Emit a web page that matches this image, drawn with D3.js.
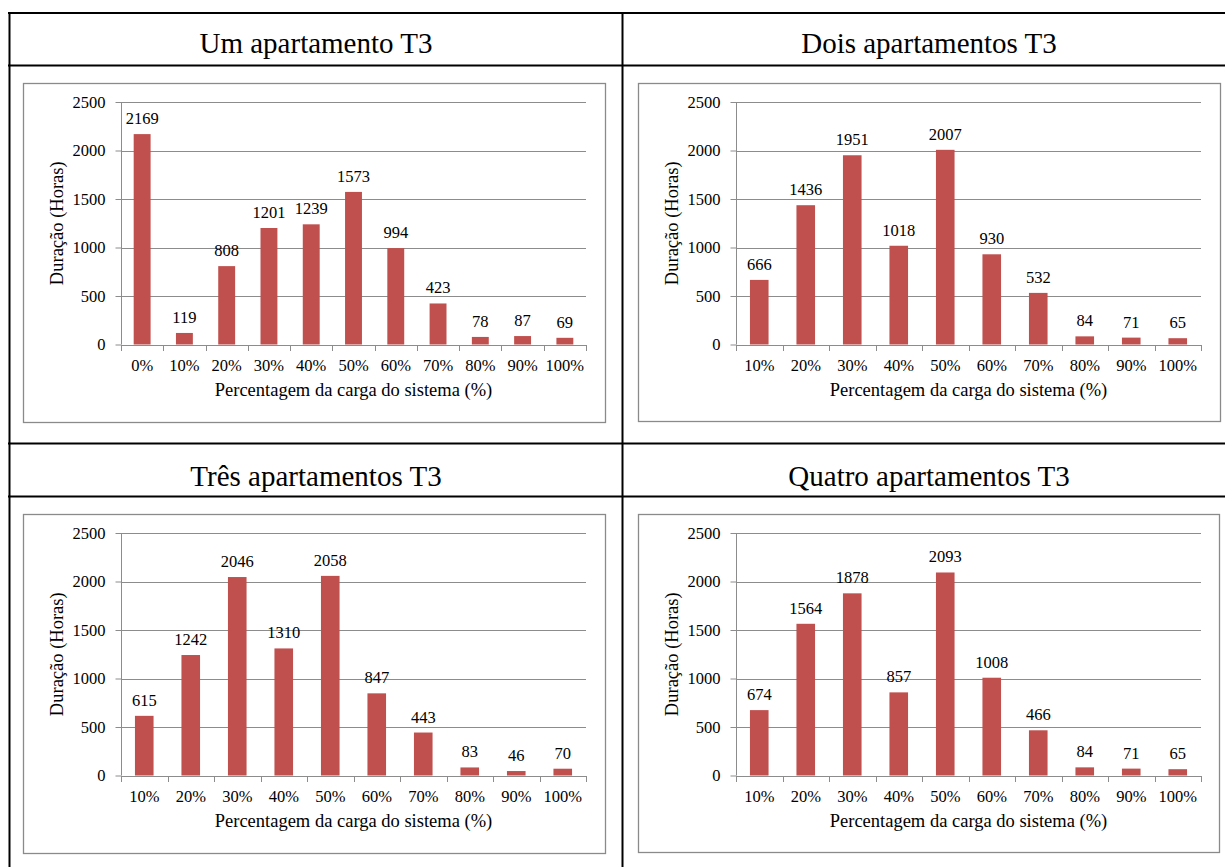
<!DOCTYPE html>
<html>
<head>
<meta charset="utf-8">
<script src="https://cdn.jsdelivr.net/npm/d3@7"></script>
<style>
  html, body { margin: 0; padding: 0; background: #fff; }
  svg { display: block; font-family: "Liberation Serif", "Times New Roman", serif; }
</style>
</head>
<body>
<svg id="chart" width="1225" height="867"></svg>
<script>
// ---- Data ----
const titles = ["Um apartamento T3", "Dois apartamentos T3", "Três apartamentos T3", "Quatro apartamentos T3"];
const catsA = ["0%", "10%", "20%", "30%", "40%", "50%", "60%", "70%", "80%", "90%", "100%"];
const catsB = ["10%", "20%", "30%", "40%", "50%", "60%", "70%", "80%", "90%", "100%"];
const valuesUm = [2169, 119, 808, 1201, 1239, 1573, 994, 423, 78, 87, 69];
const valuesDois = [666, 1436, 1951, 1018, 2007, 930, 532, 84, 71, 65];
const valuesTres = [615, 1242, 2046, 1310, 2058, 847, 443, 83, 46, 70];
const valuesQuatro = [674, 1564, 1878, 857, 2093, 1008, 466, 84, 71, 65];
const yTicks = [0, 500, 1000, 1500, 2000, 2500];
const yLabel = "Duração (Horas)";
const xLabel = "Percentagem da carga do sistema (%)";

const barColor = "#C0504D";
const gridColor = "#8c8c8c";

const svg = d3.select("#chart");

// ---- Table frame ----
const tbl = svg.append("g").attr("stroke", "#000").attr("stroke-width", 2);
tbl.append("line").attr("x1", 8).attr("x2", 1225).attr("y1", 13).attr("y2", 13);
tbl.append("line").attr("x1", 8).attr("x2", 1225).attr("y1", 65.5).attr("y2", 65.5);
tbl.append("line").attr("x1", 8).attr("x2", 1225).attr("y1", 443.5).attr("y2", 443.5);
tbl.append("line").attr("x1", 8).attr("x2", 1225).attr("y1", 496.5).attr("y2", 496.5);
tbl.append("line").attr("x1", 9.5).attr("x2", 9.5).attr("y1", 12).attr("y2", 867);
tbl.append("line").attr("x1", 622.5).attr("x2", 622.5).attr("y1", 12).attr("y2", 867);

// ---- Panels ----
const panels = [
  { title: titles[0], cats: catsA, vals: valuesUm, tx: 316, ty: 53, fx: 23, fy: 83, fw: 582, fh: 339 },
  { title: titles[1], cats: catsB, vals: valuesDois, tx: 929, ty: 53, fx: 638, fy: 83, fw: 582, fh: 338 },
  { title: titles[2], cats: catsB, vals: valuesTres, tx: 316, ty: 486, fx: 23, fy: 514, fw: 582, fh: 339 },
  { title: titles[3], cats: catsB, vals: valuesQuatro, tx: 929, ty: 486, fx: 638, fy: 514, fw: 581, fh: 338 }
];

panels.forEach(p => {
  // title
  svg.append("text")
    .attr("x", p.tx).attr("y", p.ty)
    .attr("text-anchor", "middle")
    .attr("font-size", 29)
    .attr("fill", "#000")
    .text(p.title);

  // chart frame
  svg.append("rect")
    .attr("x", p.fx + 0.5).attr("y", p.fy + 0.5)
    .attr("width", p.fw).attr("height", p.fh)
    .attr("fill", "#fff").attr("stroke", "#8a8a8a").attr("stroke-width", 1.3);

  const left = p.fx + 98, right = left + 465;
  const top = p.fy + 19, bottom = top + 242.5;

  const x = d3.scaleBand().domain(p.cats).range([left, right]).paddingInner(0.6).paddingOuter(0.3);
  const xb = d3.scaleBand().domain(p.cats).range([left, right]).padding(0);
  const y = d3.scaleLinear().domain([0, 2500]).range([bottom, top]);

  const g = svg.append("g");

  // gridlines
  g.selectAll("line.grid").data(yTicks.filter(t => t > 0)).enter().append("line")
    .attr("x1", left).attr("x2", right)
    .attr("y1", d => Math.round(y(d)) + 0.5).attr("y2", d => Math.round(y(d)) + 0.5)
    .attr("stroke", gridColor).attr("stroke-width", 1);

  // y axis
  const yAxis = d3.axisLeft(y).tickValues(yTicks).tickSize(6).tickPadding(10).tickFormat(d3.format("d"));
  const ya = g.append("g").attr("transform", `translate(${Math.round(left) + 0.5},0)`).call(yAxis);
  ya.attr("font-family", null).attr("font-size", null);
  ya.select(".domain").attr("stroke", gridColor).attr("d", `M0,${top}V${bottom}`);
  ya.selectAll(".tick line").attr("stroke", gridColor);
  ya.selectAll(".tick text").attr("font-size", 16.5).attr("fill", "#000");

  // bars
  g.selectAll("rect.bar").data(p.vals).enter().append("rect")
    .attr("x", (d, i) => x(p.cats[i]))
    .attr("width", x.bandwidth())
    .attr("y", d => y(d))
    .attr("height", d => bottom - y(d))
    .attr("fill", barColor);

  // data labels
  g.selectAll("text.lbl").data(p.vals).enter().append("text")
    .attr("x", (d, i) => x(p.cats[i]) + x.bandwidth() / 2)
    .attr("y", d => y(d) - 10)
    .attr("text-anchor", "middle")
    .attr("font-size", 16.5).attr("fill", "#000")
    .text(d => d);

  // x axis line and ticks at band boundaries
  const bounds = p.cats.map(c => xb(c)).concat([right]);
  g.append("line").attr("x1", left).attr("x2", right)
    .attr("y1", Math.round(bottom) + 0.5).attr("y2", Math.round(bottom) + 0.5)
    .attr("stroke", gridColor);
  g.selectAll("line.xt").data(bounds).enter().append("line")
    .attr("x1", d => Math.round(d) + 0.5).attr("x2", d => Math.round(d) + 0.5)
    .attr("y1", Math.round(bottom)).attr("y2", Math.round(bottom) + 6)
    .attr("stroke", gridColor);
  g.selectAll("text.xl").data(p.cats).enter().append("text")
    .attr("x", d => xb(d) + xb.bandwidth() / 2)
    .attr("y", bottom + 26)
    .attr("text-anchor", "middle")
    .attr("font-size", 16.5).attr("fill", "#000")
    .text(d => d);

  // axis titles
  g.append("text")
    .attr("x", (left + right) / 2).attr("y", bottom + 51)
    .attr("text-anchor", "middle").attr("font-size", 18.5).attr("fill", "#000")
    .text(xLabel);
  g.append("text")
    .attr("transform", `translate(${p.fx + 40},${(top + bottom) / 2}) rotate(-90)`)
    .attr("text-anchor", "middle").attr("font-size", 18.5).attr("fill", "#000")
    .text(yLabel);
});
</script>
</body>
</html>
